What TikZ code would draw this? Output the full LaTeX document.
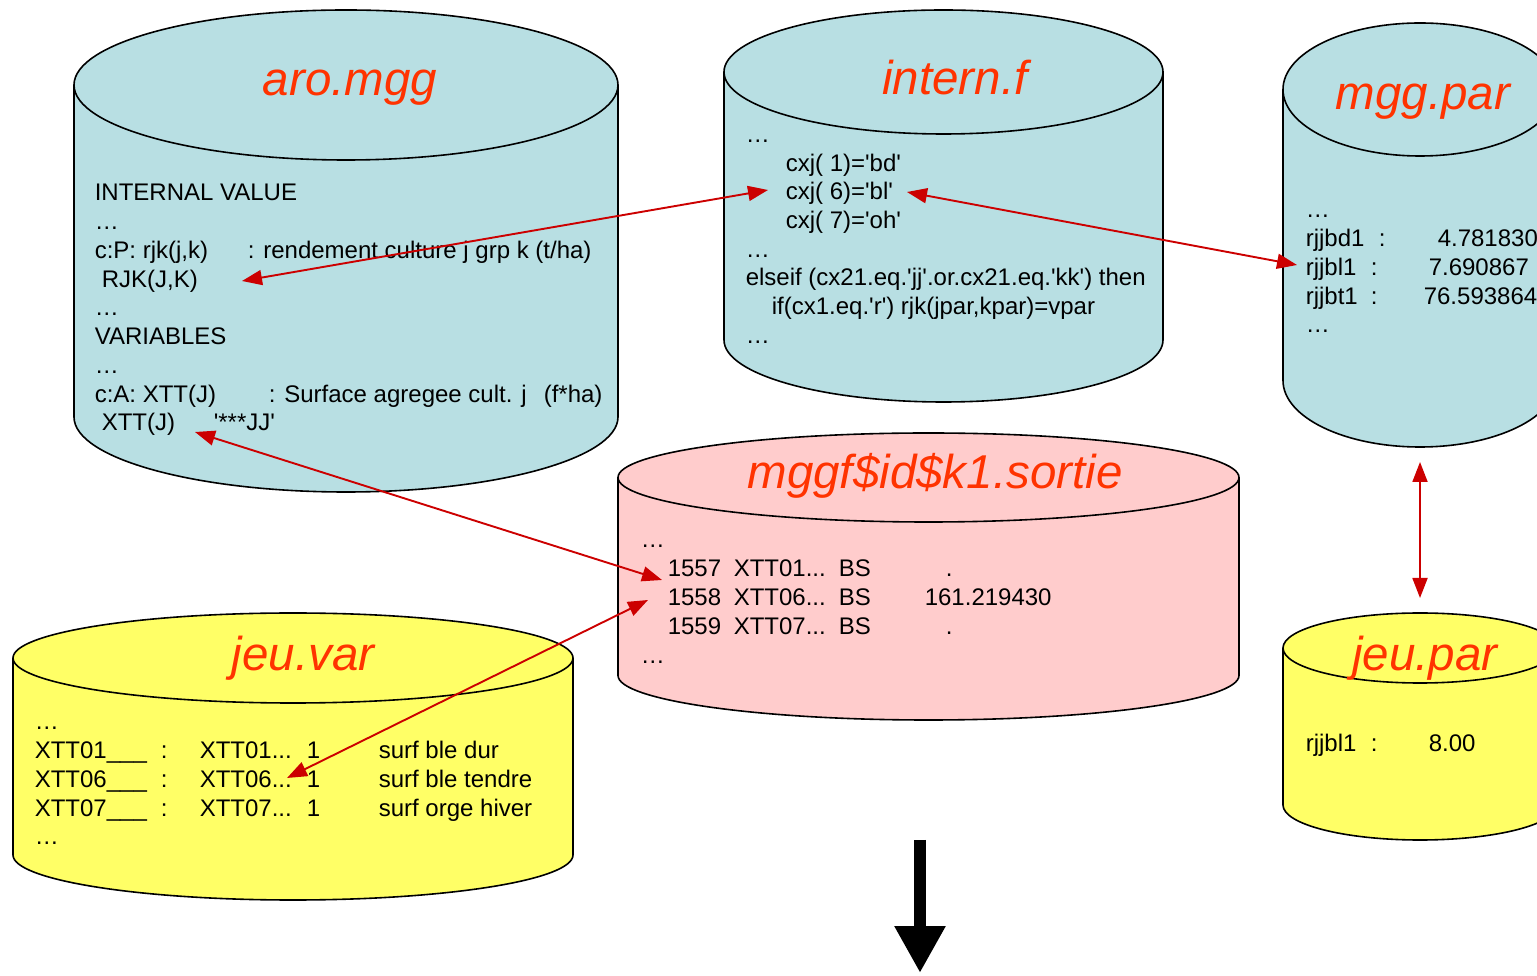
\documentclass[tikz,border=0pt]{standalone}
\usepackage{fontspec}
\usepackage{tikz}
\usetikzlibrary{arrows.meta}
\newfontfamily\arialfont{Liberation Sans}
\definecolor{dbblue}{RGB}{184,223,227}
\definecolor{dbpink}{RGB}{255,204,204}
\definecolor{dbyellow}{RGB}{255,255,102}
\definecolor{ttlred}{RGB}{255,51,0}
\definecolor{linkred}{RGB}{204,0,0}

% file as a cylinder: fill, centre x, half width, top y, bottom y, ellipse radius
\newcommand{\dbcyl}[6]{%
  \fill[#1] ({#2-#3},#4) -- ({#2-#3},#5) arc[start angle=180,end angle=360,x radius=#3,y radius=#6] -- ({#2+#3},#4) -- cycle;
  \draw ({#2-#3},#4) -- ({#2-#3},#5) arc[start angle=180,end angle=360,x radius=#3,y radius=#6] -- ({#2+#3},#4);
  \filldraw[fill=#1] (#2,#4) ellipse[x radius=#3,y radius=#6];}
% fixed width column inside a line
\newcommand{\tabcol}[2]{\makebox[#1pt][l]{#2}}

\tikzset{
  txt/.style={anchor=base west,inner sep=0pt,font=\arialfont\fontsize{24}{28}\selectfont},
  ttl/.style={inner sep=0pt,text=ttlred,font=\arialfont\itshape\fontsize{47.5}{50}\selectfont},
  link/.style={{Triangle[length=20pt,width=15pt]}-{Triangle[length=20pt,width=15pt]},draw=linkred,line width=1.9pt},
  bigarrow/.style={-{Triangle[length=47pt,width=48pt]},line width=12pt}
}

\begin{document}
\begin{tikzpicture}[x=1pt,y=1pt,line width=1.6pt]
    \useasboundingbox (0,0) rectangle (1537,975);
    \clip (0,0) rectangle (1537,975);

    % files
    \dbcyl{dbblue}{346}{272}{890}{558}{75}
    \dbcyl{dbblue}{943.5}{219.5}{903}{635}{62}
    \dbcyl{dbblue}{1420}{137}{885.5}{594.5}{66.5}
    \dbcyl{dbpink}{928.5}{310.5}{497.5}{299.5}{44.5}
    \dbcyl{dbyellow}{293}{280}{317}{120}{45}
    \dbcyl{dbyellow}{1420}{137}{327}{170}{35}

    % file names
    \node[ttl] (aroT) at (350,887) {aro.mgg};
    \node[ttl] (intT) at (955,897) {intern.f};
    \node[ttl] (parT) at (1423,873) {mgg.par};
    \node[ttl] (outT) at (935,499) {mggf\$id\$k1.sortie};
    \node[ttl] (varT) at (303,317) {jeu.var};
    \node[ttl] (jparT) at (1425,317) {jeu.par};

    % aro.mgg
    \node[txt] (aro1) at (94,774) {INTERNAL VALUE};
    \node[txt] (aro2) at (94,745.25) {…};
    \node[txt] (aro3) at (94,716.5) {\tabcol{153}{c:P: rjk(j,k)}: rendement culture j grp k (t/ha)};
    \node[txt] (aro4) at (101,687.75) {RJK(J,K)};
    \node[txt] (aro5) at (94,659) {…};
    \node[txt] (aro6) at (94,630.25) {VARIABLES};
    \node[txt] (aro7) at (94,601.5) {…};
    \node[txt] (aro8) at (94,572.75) {\tabcol{174}{c:A: XTT(J)}\tabcol{275}{: Surface agregee cult. j}(f*ha)};
    \node[txt] (aro9) at (101,544) {\tabcol{112}{XTT(J)}'***JJ'};

    % intern.f
    \node[txt] (int1) at (745,832.5) {…};
    \node[txt] (int2) at (785,803.8) {cxj( 1)='bd'};
    \node[txt] (int3) at (785,775.1) {cxj( 6)='bl'};
    \node[txt] (int4) at (785,746.4) {cxj( 7)='oh'};
    \node[txt] (int5) at (745,717.7) {…};
    \node[txt] (int6) at (745,689) {elseif (cx21.eq.'jj'.or.cx21.eq.'kk') then};
    \node[txt] (int7) at (771,660.3) {if(cx1.eq.'r') rjk(jpar,kpar)=vpar};
    \node[txt] (int8) at (745,631.6) {…};

    % mgg.par
    \node[txt] (par1) at (1305,757) {…};
    \node[txt] (par2) at (1305,728.3) {\tabcol{73}{rjjbd1}\tabcol{59}{:}4.781830};
    \node[txt] (par3) at (1305,699.6) {\tabcol{65}{rjjbl1}\tabcol{58}{:}7.690867};
    \node[txt] (par4) at (1305,670.9) {\tabcol{65}{rjjbt1}\tabcol{53}{:}76.593864};
    \node[txt] (par5) at (1305,642.2) {…};

    % mggf$id$k1.sortie
    \node[txt] (out1) at (640,427) {…};
    \node[txt] (out2) at (667,398) {\tabcol{66}{1557}\tabcol{105}{XTT01...}\tabcol{107}{BS}.};
    \node[txt] (out3) at (667,369) {\tabcol{66}{1558}\tabcol{105}{XTT06...}\tabcol{86}{BS}161.219430};
    \node[txt] (out4) at (667,340) {\tabcol{66}{1559}\tabcol{105}{XTT07...}\tabcol{107}{BS}.};
    \node[txt] (out5) at (640,311) {…};

    % jeu.var
    \node[txt] (var1) at (34,245) {…};
    \node[txt] (var2) at (34,216.3) {\tabcol{126}{XTT01\_\_\_}\tabcol{39}{:}\tabcol{107}{XTT01...}\tabcol{72}{1}surf ble dur};
    \node[txt] (var3) at (34,187.6) {\tabcol{126}{XTT06\_\_\_}\tabcol{39}{:}\tabcol{107}{XTT06...}\tabcol{72}{1}surf ble tendre};
    \node[txt] (var4) at (34,158.9) {\tabcol{126}{XTT07\_\_\_}\tabcol{39}{:}\tabcol{107}{XTT07...}\tabcol{72}{1}surf orge hiver};
    \node[txt] (var5) at (34,130.2) {…};

    % jeu.par
    \node[txt] (jpar1) at (1305,223) {\tabcol{65}{rjjbl1}\tabcol{58}{:}8.00};

    % links between the files
    \coordinate (rjkEnd) at (242,694);
    \coordinate (cxjL) at (768,785);
    \coordinate (cxjR) at (907,783);
    \coordinate (rjjEnd) at (1297,710);
    \coordinate (xttEnd) at (195,543);
    \coordinate (out57) at (662,395);
    \coordinate (var06) at (287,197);
    \coordinate (out58) at (648,375);
    \coordinate (parLow) at (1420,513);
    \coordinate (jparTop) at (1420,377);
    \draw[link] (rjkEnd) -- (cxjL);
    \draw[link] (cxjR) -- (rjjEnd);
    \draw[link] (xttEnd) -- (out57);
    \draw[link] (var06) -- (out58);
    \draw[link] (parLow) -- (jparTop);

    % result
    \coordinate (resTop) at (920,135);
    \coordinate (resTip) at (920,2);
    \draw[bigarrow] (resTop) -- (resTip);
\end{tikzpicture}
\end{document}
